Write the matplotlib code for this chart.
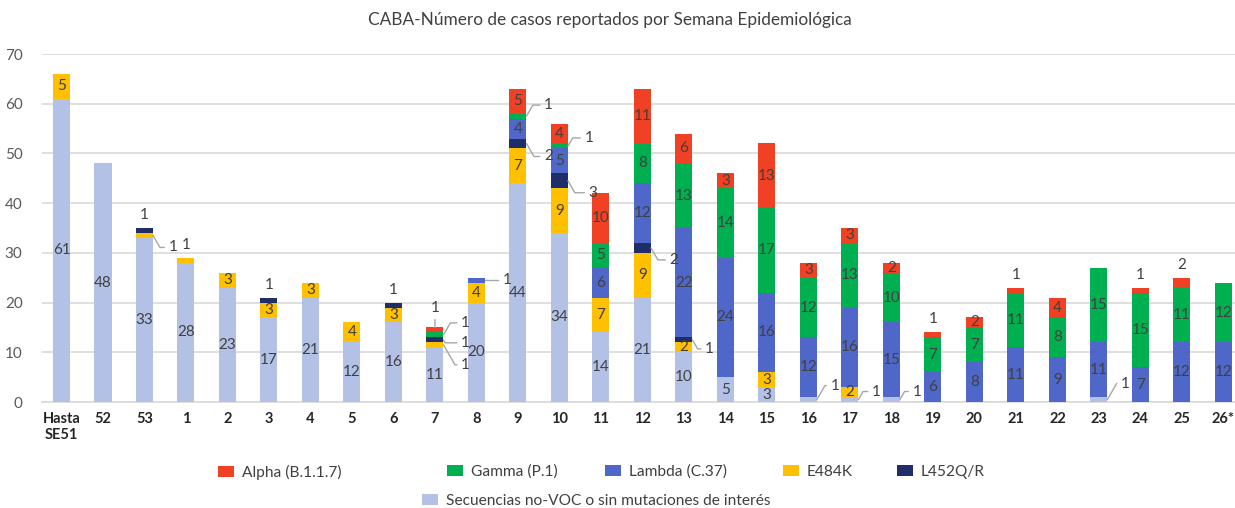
import numpy as np
import matplotlib.pyplot as plt
from matplotlib.patches import Patch

plt.rcParams['font.family'] = ['Lato', 'DejaVu Sans']

# semanas epidemiologicas
semanas = ['Hasta\nSE51', '52', '53', '1', '2', '3', '4', '5', '6', '7', '8', '9', '10',
           '11', '12', '13', '14', '15', '16', '17', '18', '19', '20', '21', '22', '23',
           '24', '25', '26*']

# casos por variante (de abajo hacia arriba en la pila)
no_voc = [61, 48, 33, 28, 23, 17, 21, 12, 16, 11, 20, 44, 34, 14, 21, 10, 5, 3, 1, 1, 1,
          0, 0, 0, 0, 1, 0, 0, 0]
e484k = [5, 0, 1, 1, 3, 3, 3, 4, 3, 1, 4, 7, 9, 7, 9, 2, 0, 3, 0, 2, 0,
         0, 0, 0, 0, 0, 0, 0, 0]
l452 = [0, 0, 1, 0, 0, 1, 0, 0, 1, 1, 0, 2, 3, 0, 2, 1, 0, 0, 0, 0, 0,
        0, 0, 0, 0, 0, 0, 0, 0]
lambda_c37 = [0, 0, 0, 0, 0, 0, 0, 0, 0, 0, 1, 4, 5, 6, 12, 22, 24, 16, 12, 16, 15,
              6, 8, 11, 9, 11, 7, 12, 12]
gamma_p1 = [0, 0, 0, 0, 0, 0, 0, 0, 0, 1, 0, 1, 1, 5, 8, 13, 14, 17, 12, 13, 10,
            7, 7, 11, 8, 15, 15, 11, 12]
alpha_b117 = [0, 0, 0, 0, 0, 0, 0, 0, 0, 1, 0, 5, 4, 10, 11, 6, 3, 13, 3, 3, 2,
              1, 2, 1, 4, 0, 1, 2, 0]

series = [
    ('Secuencias no-VOC o sin mutaciones de interés', no_voc, '#B4C1E7'),
    ('E484K', e484k, '#FFC000'),
    ('L452Q/R', l452, '#1F2D68'),
    ('Lambda (C.37)', lambda_c37, '#4E67C8'),
    ('Gamma (P.1)', gamma_p1, '#00B050'),
    ('Alpha (B.1.1.7)', alpha_b117, '#F04124'),
]

# etiquetas fuera de la barra: (serie, indice) -> (dx px, dy px, con linea)
TOP = (0, 13, False)
fuera = {
    (2, 2): TOP, (1, 2): (20, -12, True), (1, 3): TOP,
    (2, 5): TOP, (2, 8): TOP,
    (5, 9): (0, 19, True), (4, 9): (22, 12, True), (2, 9): (22, -3, True), (1, 9): (22, -20, True),
    (3, 10): (22, 0, True),
    (4, 11): (22, 11, True), (2, 11): (22, -13, True),
    (4, 12): (21, 8, True), (2, 12): (25, -12, True),
    (2, 14): (23, -12, True),
    (2, 15): (17, -9, True),
    (0, 18): (18, 14, True), (0, 19): (18, 8, True), (0, 20): (17, 8, True),
    (5, 21): TOP, (5, 23): TOP, (0, 25): (18, 16, True), (5, 26): TOP, (5, 27): TOP,
}

W, H = 1235, 508
fig = plt.figure(figsize=(W / 100, H / 100), dpi=100)
ax = fig.add_axes([42 / W, 1 - 402 / H, (W - 42) / W, (402 - 54) / H])

x = np.arange(len(semanas))
ancho = 0.41
base = np.zeros(len(semanas))
txt_color = '#404040'
for si, (nombre, vals, color) in enumerate(series):
    vals = np.array(vals, dtype=float)
    ax.bar(x, vals, ancho, bottom=base, color=color, linewidth=0, zorder=3)
    for i, v in enumerate(vals):
        if v <= 0:
            continue
        mid = base[i] + v / 2
        if (si, i) in fuera:
            dx, dy, linea = fuera[(si, i)]
            if dx == 0:
                total = sum(s[1][i] for s in series)
                xy = (x[i], total)
            else:
                xy = (x[i] + ancho / 2, mid)
            ap = None
            if linea:
                ang = 60 if dy > 0 else -60
                ap = dict(arrowstyle='-', color='#A6A6A6', lw=1,
                          connectionstyle=f'angle,angleA=0,angleB={ang},rad=0',
                          shrinkA=1, shrinkB=0)
                if dx == 0:
                    ap['connectionstyle'] = 'arc3'
            ax.annotate(f'{int(v)}', xy=xy, xytext=(dx, dy), textcoords='offset pixels',
                        ha='center', va='center', fontsize=11, color=txt_color,
                        arrowprops=ap, zorder=5)
        else:
            ax.text(x[i], mid, f'{int(v)}', ha='center', va='center', fontsize=11,
                    color=txt_color, zorder=5)
    base += vals

ax.set_xlim(-0.47, 28.28)
ax.set_ylim(0, 70)
ax.set_yticks(range(0, 71, 10))
ax.yaxis.grid(True, color='#D9D9D9', lw=1.2, zorder=0)
ax.set_axisbelow(True)
for s in ['top', 'right', 'left']:
    ax.spines[s].set_visible(False)
ax.spines['bottom'].set_color('#D9D9D9')
ax.spines['bottom'].set_linewidth(1.2)
ax.tick_params(axis='both', length=0)
ax.tick_params(axis='y', labelsize=11, labelcolor='#595959', pad=14)
ax.set_xticks(x)
ax.set_xticklabels(semanas, fontsize=10.5, fontweight='bold', color='#262626')
ax.tick_params(axis='x', pad=7)

fig.text(610 / W, 1 - 20 / H, 'CABA-Número de casos reportados por Semana Epidemiológica',
         ha='center', va='center', fontsize=12.4, color='#404040')

# leyenda, cada entrada en su sitio (borde izquierdo del marcador)
pos_leyenda = {
    'Alpha (B.1.1.7)': (218, 472), 'Gamma (P.1)': (447, 472), 'Lambda (C.37)': (605, 472),
    'E484K': (783, 472), 'L452Q/R': (897, 472),
    'Secuencias no-VOC o sin mutaciones de interés': (422, 501),
}
for nombre, vals, color in series:
    px, py = pos_leyenda[nombre]
    fig.legend(handles=[Patch(facecolor=color, label=nombre)], loc='center left',
               bbox_to_anchor=(px / W, 1 - py / H), frameon=False, fontsize=11.2,
               handlelength=1.0, handleheight=0.72, handletextpad=0.55,
               borderpad=0, borderaxespad=0, labelcolor='#404040')

fig.savefig('out.png', dpi=100)
